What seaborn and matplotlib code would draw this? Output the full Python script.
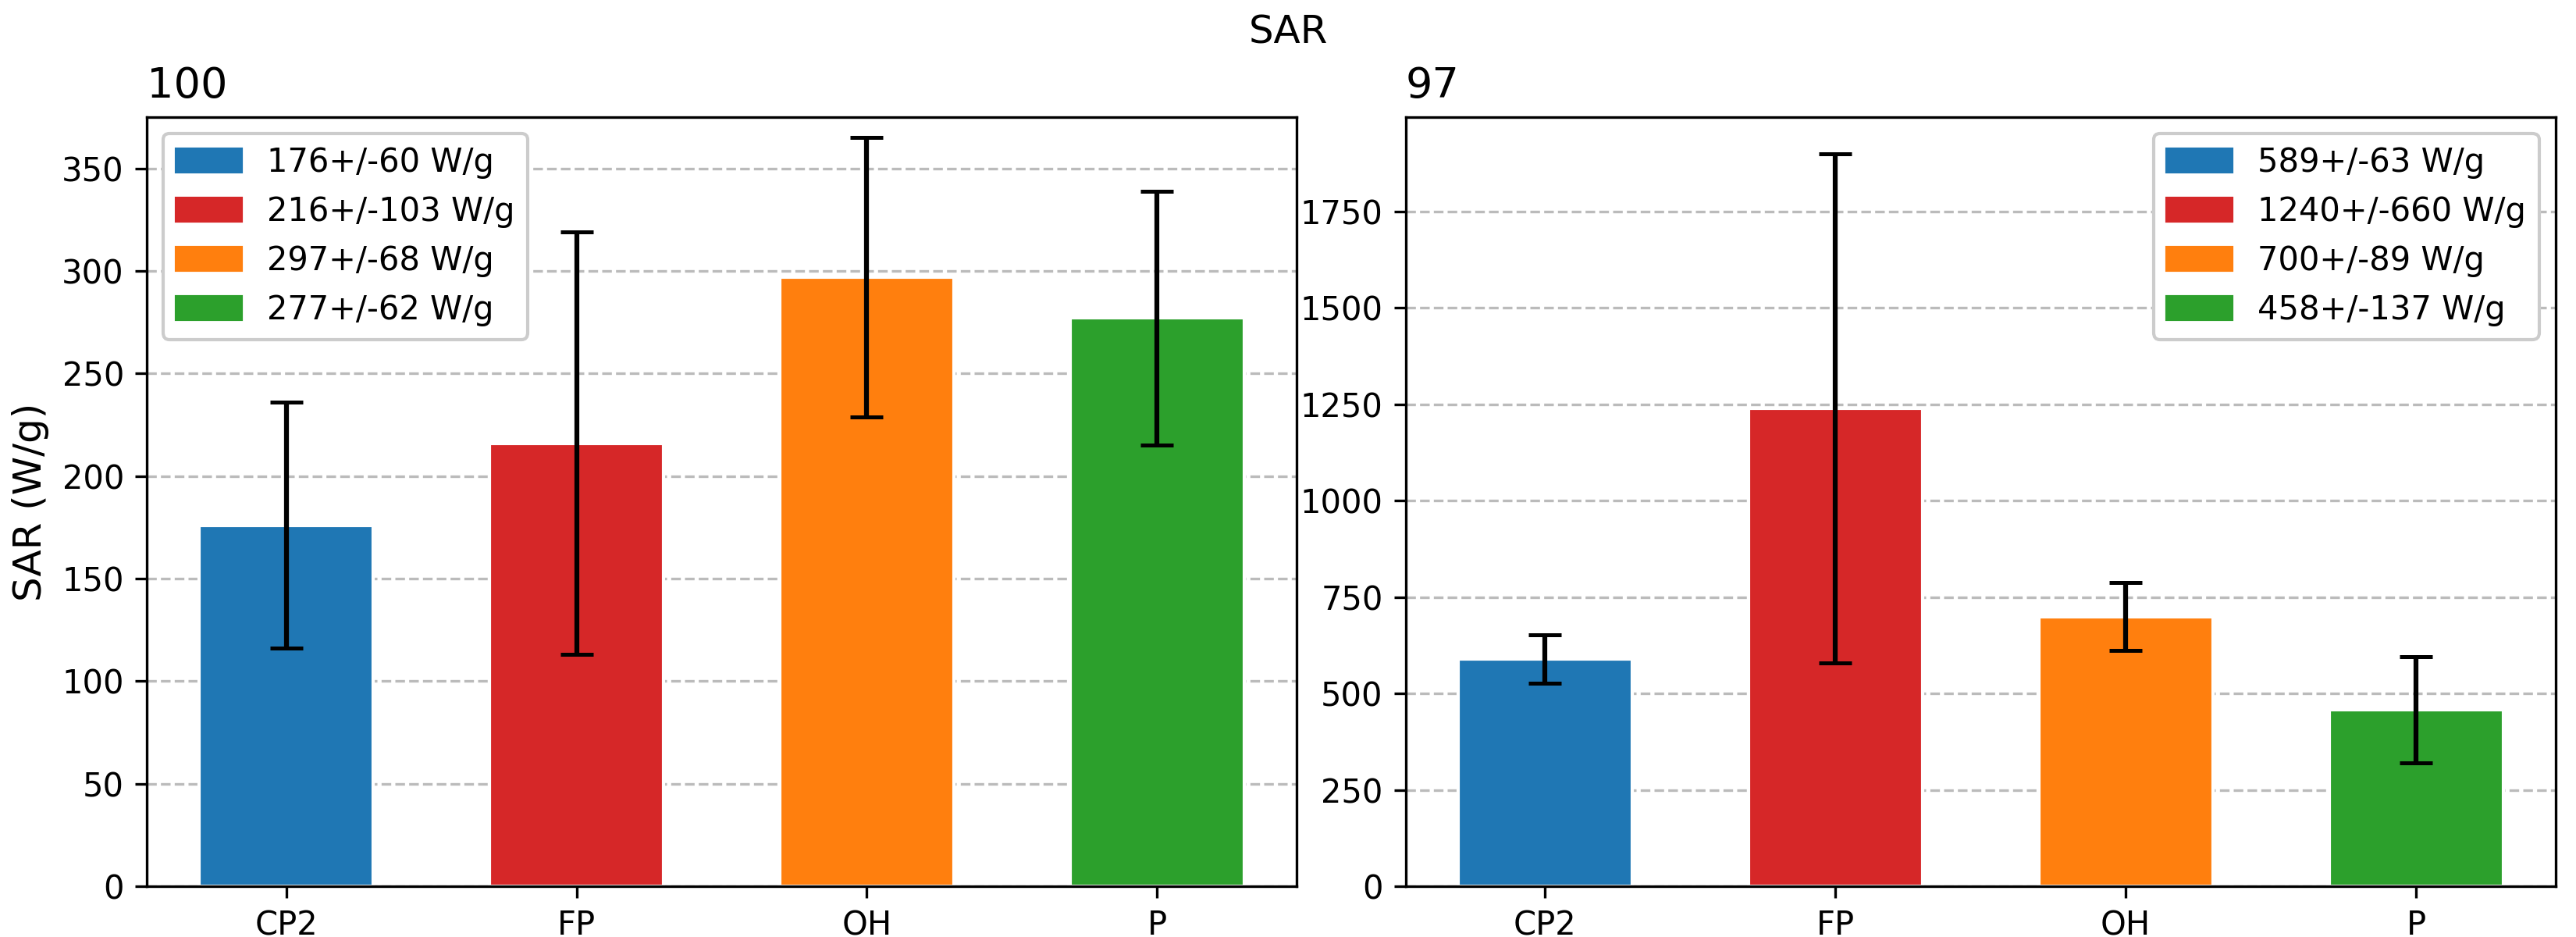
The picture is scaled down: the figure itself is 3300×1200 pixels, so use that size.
import matplotlib
matplotlib.use("Agg")
import matplotlib.pyplot as plt
import matplotlib.patches as mpatches
import seaborn as sns
import pandas as pd

categories = ["CP2", "FP", "OH", "P"]
colors = ["#1f77b4", "#d62728", "#ff7f0e", "#2ca02c"]

left_title = "100"
left_values = [176, 216, 297, 277]
left_errors = [60, 103, 68, 62]

right_title = "97"
right_values = [589, 1240, 700, 458]
right_errors = [63, 660, 89, 137]

sns.set_style("white")
plt.rcParams["font.family"] = ["DejaVu Sans"]
plt.rcParams.update({"text.color": "black", "axes.labelcolor": "black",
                     "xtick.color": "black", "ytick.color": "black"})

fig, axes = plt.subplots(1, 2, figsize=(11, 4), dpi=300)


def draw_panel(ax, title, values, errors, yticks, legend_loc):
    df = pd.DataFrame({"cat": categories, "val": values})
    sns.barplot(data=df, x="cat", y="val", hue="cat", palette=colors,
                width=0.6, legend=False, ax=ax, saturation=1)
    ax.errorbar(range(len(categories)), values, yerr=errors, fmt="none",
                ecolor="black", elinewidth=1.5, capsize=5, capthick=1.2)
    ax.set_title(title, loc="left", fontsize=13)
    ax.set_xlabel("")
    ax.set_yticks(yticks)
    ax.yaxis.grid(True, linestyle="--", color="#bbbbbb", linewidth=0.8)
    ax.set_axisbelow(True)
    for s in ax.spines.values():
        s.set_color("black")
        s.set_linewidth(0.8)
    ax.tick_params(axis="both", labelsize=10, left=True, bottom=True, length=3.5)
    handles = [mpatches.Patch(color=c, label=f"{v}+/-{e} W/g")
               for c, v, e in zip(colors, values, errors)]
    ax.legend(handles=handles, loc=legend_loc, fontsize=10, framealpha=1,
              edgecolor="#cccccc")


draw_panel(axes[0], left_title, left_values, left_errors,
           range(0, 351, 50), "upper left")
axes[0].set_ylim(0, 375)
axes[0].set_ylabel("SAR (W/g)", fontsize=12)

draw_panel(axes[1], right_title, right_values, right_errors,
           range(0, 1751, 250), "upper right")
axes[1].set_ylim(0, 1995)
axes[1].set_ylabel("")

fig.suptitle("SAR", fontsize=12, y=0.985)
fig.subplots_adjust(left=0.057, right=0.992, top=0.875, bottom=0.054, wspace=0.095)
fig.savefig("out.png", dpi=300)
